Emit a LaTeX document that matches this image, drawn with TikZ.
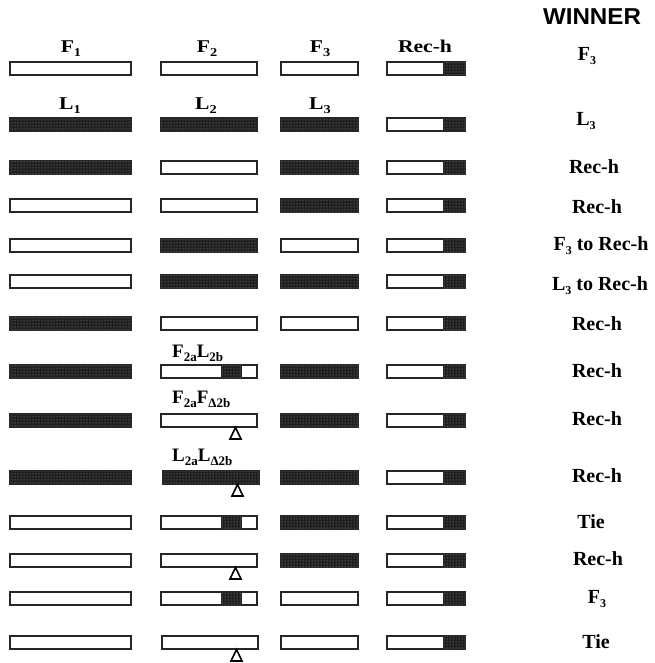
\documentclass[tikz,border=0pt]{standalone}
\usepackage{fontspec}
\setmainfont{Liberation Serif}
\newfontfamily\winfont{Liberation Sans}
\usetikzlibrary{patterns}
\newcommand\subx[2][12]{\raisebox{-4pt}{\fontsize{#1}{#1}\selectfont #2}}
\newcommand\hdr[1]{\scalebox{1.2}[1]{\fontsize{18}{18}\selectfont\bfseries #1}}
\newcommand\lbl[1]{{\fontsize{19}{19}\selectfont\bfseries #1}}
\newcommand\win[1]{{\fontsize{20}{20}\selectfont\bfseries #1}}
\begin{document}
\begin{tikzpicture}[x=1pt,y=-1pt,
  bw/.style={draw=black!85,line width=1.1pt,fill=white},
  bd/.style={draw=black!85,line width=1.1pt,fill=black!88,
    postaction={pattern=dots,pattern color=black!40}},
  tri/.style={draw=black,line width=1.6pt,fill=white,line join=miter},
  txt/.style={anchor=base,inner sep=0pt},
  txtl/.style={anchor=base west,inner sep=0pt}]
\useasboundingbox (0,0) rectangle (654,663);
% columns 1, 3 and 4
\foreach \y/\a/\c in {62/bw/bw,118/bd/bd,161/bd/bd,199/bw/bd,239/bw/bw,275/bw/bd,
  317/bd/bw,365/bd/bd,414/bd/bd,471/bd/bd,516/bw/bd,554/bw/bd,592/bw/bw,636/bw/bw}{
  \draw[\a] (10,\y) rectangle (131,\y+13);
  \draw[\c] (281,\y) rectangle (358,\y+13);
  \draw[bw] (387,\y) rectangle (465,\y+13);
  \draw[bd] (444,\y) rectangle (465,\y+13);
}
% column 2, plain bars
\foreach \y/\b in {62/bw,118/bd,161/bw,199/bw,239/bd,275/bd,317/bw}{
  \draw[\b] (161,\y) rectangle (257,\y+13);
}
% column 2, bars with a dark segment
\foreach \y in {365,516,592}{
  \draw[bw] (161,\y) rectangle (257,\y+13);
  \draw[bd] (222,\y) rectangle (241,\y+13);
}
% column 2, bars with a triangle
\foreach \y/\b/\xo in {414/bw/161,471/bd/163,554/bw/161,636/bw/162}{
  \draw[\b] (\xo,\y) rectangle (\xo+96,\y+13);
  \draw[tri] (\xo+74.5,\y+13.5) -- (\xo+80,\y+25) -- (\xo+69,\y+25) -- cycle;
}
% headers
\node[txt] (hF1) at (71,53) {\hdr{F\subx[12]{1}}};
\node[txt] (hF2) at (207,53) {\hdr{F\subx[12]{2}}};
\node[txt] (hF3) at (320,53) {\hdr{F\subx[12]{3}}};
\node[txt] (hRh) at (425,53) {\hdr{Rec-h}};
\node[txt] (hL1) at (70,110) {\hdr{L\subx[12]{1}}};
\node[txt] (hL2) at (206,110) {\hdr{L\subx[12]{2}}};
\node[txt] (hL3) at (320,110) {\hdr{L\subx[12]{3}}};
\node[txt] (hW) at (592,25) {\scalebox{1.05}[1]{\winfont\fontsize{23}{23}\selectfont\bfseries WINNER}};
% column 2 labels
\node[txtl] (l8) at (172,357) {\lbl{F\subx[13]{2a}L\subx[13]{2b}}};
\node[txtl] (l9) at (172,403) {\lbl{F\subx[13]{2a}F\subx[13]{Δ2b}}};
\node[txtl] (l10) at (172,461) {\lbl{L\subx[13]{2a}L\subx[13]{Δ2b}}};
% winners
\node[txt] (w1) at (587,61) {\win{F\subx{3}}};
\node[txt] (w2) at (586,126) {\win{L\subx{3}}};
\node[txt] (w3) at (594,173) {\win{Rec-h}};
\node[txt] (w4) at (597,213) {\win{Rec-h}};
\node[txt] (w5) at (601,250) {\win{F\subx{3} to Rec-h}};
\node[txt] (w6) at (600,290) {\win{L\subx{3} to Rec-h}};
\node[txt] (w7) at (597,330) {\win{Rec-h}};
\node[txt] (w8) at (597,377) {\win{Rec-h}};
\node[txt] (w9) at (597,425) {\win{Rec-h}};
\node[txt] (w10) at (597,482) {\win{Rec-h}};
\node[txt] (w11) at (591,528) {\win{Tie}};
\node[txt] (w12) at (598,565) {\win{Rec-h}};
\node[txt] (w13) at (597,603) {\win{F\subx{3}}};
\node[txt] (w14) at (596,648) {\win{Tie}};
\end{tikzpicture}
\end{document}
